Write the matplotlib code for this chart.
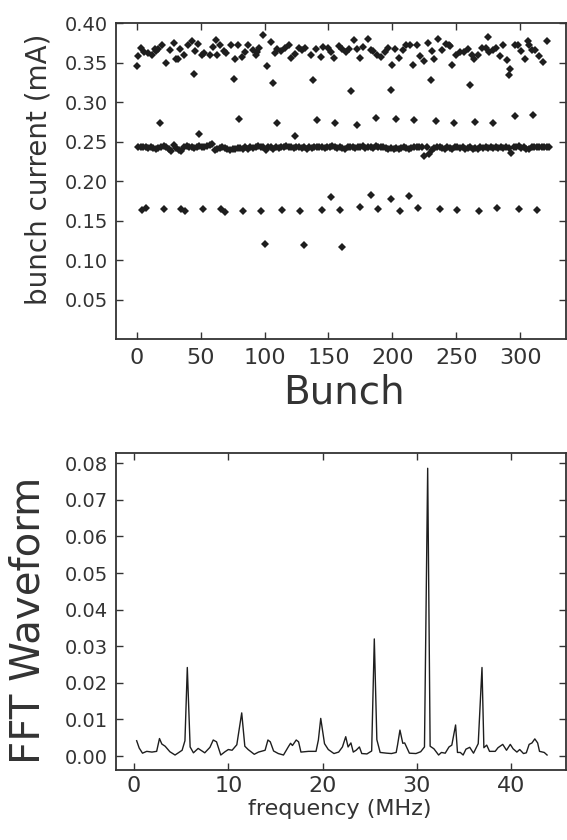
import numpy as np
import matplotlib
matplotlib.use("Agg")
from matplotlib import pyplot as plt

plt.rcParams['font.family'] = ['DejaVu Sans']

# ---- top panel: bunch current per bunch ----
# upper band
hi_bunch = [0, 1, 3, 6, 9, 12, 14, 15, 17, 20, 23, 26, 29, 31, 32, 34, 37, 40, 43, 45,
            46, 48, 51, 53, 57, 60, 62, 63, 65, 68, 70, 74, 76, 77, 79, 82, 85, 87, 91, 93,
            94, 96, 99, 102, 105, 107, 108, 110, 113, 116, 119, 121, 124, 127, 129, 132, 136, 138, 140, 144,
            146, 150, 152, 154, 158, 161, 164, 166, 170, 172, 175, 177, 181, 183, 185, 188, 191, 194, 197, 200,
            202, 205, 208, 211, 214, 216, 219, 222, 225, 228, 230, 231, 233, 236, 239, 242, 244, 245, 247, 250,
            253, 256, 259, 261, 262, 264, 267, 270, 273, 275, 276, 279, 281, 284, 287, 290, 291, 292, 296, 298,
            301, 304, 306, 307, 309, 312, 315, 318, 321]
hi_current = [0.346, 0.358, 0.3685, 0.3635, 0.3627, 0.360, 0.3678, 0.3644, 0.3669, 0.372,
              0.3492, 0.3656, 0.3754, 0.3542, 0.3542, 0.3678, 0.360, 0.3728, 0.3774, 0.3352,
              0.3652, 0.3732, 0.360, 0.3618, 0.360, 0.3694, 0.3783, 0.360, 0.372, 0.3644,
              0.3627, 0.372, 0.3298, 0.3542, 0.372, 0.357, 0.3635, 0.3728, 0.3656, 0.3601,
              0.3635, 0.369, 0.3848, 0.3455, 0.3766, 0.3243, 0.3627, 0.3678, 0.3644, 0.3685,
              0.372, 0.3559, 0.3614, 0.369, 0.366, 0.369, 0.3593, 0.328, 0.3678, 0.357,
              0.3698, 0.3685, 0.3635, 0.3559, 0.3707, 0.3669, 0.3635, 0.3669, 0.3787, 0.3669,
              0.3559, 0.3698, 0.3795, 0.366, 0.3648, 0.3593, 0.357, 0.3635, 0.3685, 0.3475,
              0.3678, 0.3559, 0.366, 0.3728, 0.3728, 0.3467, 0.372, 0.358, 0.3517, 0.3754,
              0.3285, 0.3648, 0.3542, 0.3804, 0.3656, 0.3741, 0.372, 0.3711, 0.3475, 0.3593,
              0.3635, 0.3635, 0.3669, 0.3213, 0.3601, 0.355, 0.3593, 0.3685, 0.3685, 0.3821,
              0.3635, 0.3656, 0.3685, 0.358, 0.372, 0.3538, 0.334, 0.3424, 0.3728, 0.3728,
              0.3652, 0.3546, 0.3771, 0.372, 0.366, 0.366, 0.358, 0.3508, 0.3771]

# middle band (every second bunch from 1 to 323)
mid_bunch = np.arange(1, 324, 2)
mid_current = [
    0.243, 0.243, 0.244, 0.243, 0.242, 0.243, 0.242, 0.241, 0.242, 0.243,
    0.245, 0.244, 0.241, 0.238, 0.246, 0.242, 0.240, 0.238, 0.244, 0.245,
    0.244, 0.243, 0.242, 0.244, 0.245, 0.244, 0.243, 0.245, 0.246, 0.247,
    0.240, 0.241, 0.242, 0.243, 0.242, 0.241, 0.240, 0.241, 0.241, 0.242,
    0.242, 0.241, 0.244, 0.241, 0.243, 0.242, 0.244, 0.245, 0.243, 0.244,
    0.239, 0.244, 0.243, 0.241, 0.243, 0.242, 0.244, 0.243, 0.245, 0.244,
    0.243, 0.242, 0.244, 0.243, 0.242, 0.243, 0.241, 0.243, 0.242, 0.244,
    0.243, 0.244, 0.243, 0.242, 0.244, 0.243, 0.245, 0.243, 0.242, 0.244,
    0.242, 0.241, 0.243, 0.244, 0.243, 0.242, 0.244, 0.243, 0.245, 0.242,
    0.243, 0.244, 0.242, 0.245, 0.243, 0.244, 0.243, 0.242, 0.241, 0.242,
    0.241, 0.242, 0.241, 0.242, 0.243, 0.242, 0.241, 0.242, 0.244, 0.243,
    0.244, 0.243, 0.232, 0.243, 0.234, 0.239, 0.242, 0.243, 0.243, 0.242,
    0.241, 0.243, 0.242, 0.241, 0.243, 0.244, 0.242, 0.243, 0.241, 0.242,
    0.243, 0.241, 0.242, 0.241, 0.243, 0.242, 0.243, 0.242, 0.243, 0.242,
    0.243, 0.242, 0.244, 0.242, 0.243, 0.242, 0.236, 0.243, 0.244, 0.245,
    0.242, 0.243, 0.241, 0.241, 0.244, 0.243, 0.244, 0.243, 0.244, 0.243,
    0.244, 0.243]

# scattered points between the bands
odd_bunch = [18, 49, 80, 110, 124, 141, 155, 168, 172, 187, 199, 203, 217, 234, 248, 265, 279, 296, 310]
odd_current = [0.2736, 0.2597, 0.2791, 0.2736, 0.2571, 0.2771, 0.2736, 0.3137, 0.2707, 0.2799,
               0.3158, 0.2787, 0.278, 0.2762, 0.2736, 0.2749, 0.2736, 0.2825, 0.2833]

# lower band and the lowest points
lo_bunch = [4, 7, 21, 35, 38, 52, 66, 69, 83, 97, 114, 128, 145, 152, 159, 175, 183, 189,
            199, 206, 213, 220, 237, 251, 268, 282, 299, 313, 100, 131, 161]
lo_current = [0.1631, 0.1663, 0.1646, 0.1652, 0.1623, 0.1646, 0.1652, 0.1610, 0.163, 0.163,
              0.164, 0.163, 0.164, 0.1795, 0.164, 0.1672, 0.1822, 0.165, 0.1777, 0.1621,
              0.1809, 0.1659, 0.1646, 0.1642, 0.163, 0.1663, 0.1655, 0.1642, 0.1204, 0.1196,
              0.1167]

# ---- bottom panel: FFT of the waveform ----
freq = [0.28, 0.55, 0.9, 1.35, 1.9, 2.4, 2.7, 2.95, 3.3, 3.8, 4.35, 4.7, 5.1, 5.4, 5.65,
        5.95, 6.3, 6.8, 7.5, 8.05, 8.4, 8.75, 9.2, 9.65, 10.0, 10.4, 10.9, 11.42, 11.75, 12.1,
        12.75, 13.2, 13.9, 14.2, 14.45, 14.8, 15.3, 15.85, 16.4, 16.6, 16.8, 17.2, 17.45, 17.7, 18.5,
        19.3, 19.55, 19.8, 20.2, 20.6, 21.2, 21.7, 22.1, 22.45, 22.7, 23.0, 23.25, 23.55, 23.9, 24.15,
        24.7, 25.2, 25.48, 25.75, 26.1, 26.8, 27.3, 27.8, 27.95, 28.2, 28.5, 28.7, 29.2, 29.9, 30.4,
        30.8, 31.14, 31.4, 31.8, 32.3, 32.6, 33.0, 33.4, 33.7, 34.1, 34.3, 34.6, 34.9, 35.2, 35.6,
        36.0, 36.5, 36.9, 37.1, 37.4, 37.7, 38.3, 38.6, 39.1, 39.5, 39.9, 40.2, 40.6, 40.9, 41.3,
        41.6, 41.9, 42.2, 42.5, 42.8, 43.0, 43.5, 43.8]
fft_amp = [0.0042, 0.0022, 0.0008, 0.0013, 0.0011, 0.0013, 0.0048, 0.0033, 0.0027, 0.0012,
           0.0003, 0.0009, 0.0016, 0.0042, 0.0242, 0.0025, 0.0009, 0.0021, 0.0009, 0.0024,
           0.0044, 0.0039, 0.0003, 0.0012, 0.0018, 0.0016, 0.0031, 0.0118, 0.0027, 0.0018,
           0.0005, 0.0011, 0.0016, 0.0044, 0.0039, 0.0014, 0.0007, 0.0003, 0.0027, 0.0035,
           0.0029, 0.0044, 0.0039, 0.0011, 0.0013, 0.0013, 0.0044, 0.0103, 0.0034, 0.0018,
           0.0007, 0.0011, 0.0025, 0.0053, 0.0025, 0.0036, 0.0011, 0.0016, 0.0025, 0.0007,
           0.0006, 0.0014, 0.0320, 0.0045, 0.0010, 0.0008, 0.0007, 0.0010, 0.0031, 0.0071,
           0.0035, 0.0036, 0.0008, 0.0007, 0.0012, 0.0025, 0.0786, 0.0027, 0.0020, 0.0003,
           0.0010, 0.0008, 0.0025, 0.0030, 0.0085, 0.0010, 0.0010, 0.0003, 0.0019, 0.0024,
           0.0008, 0.0034, 0.0242, 0.0023, 0.0030, 0.0013, 0.0013, 0.0023, 0.0032, 0.0016,
           0.0032, 0.0020, 0.0011, 0.0018, 0.0007, 0.0009, 0.0032, 0.0036, 0.0047, 0.0036,
           0.0013, 0.0010, 0.0003]

ink = '#1e1e1e'
txt = '#333333'

fig = plt.figure(figsize=(5.67, 8.40), dpi=100)

def style(ax):
    for s in ax.spines.values():
        s.set_linewidth(1.3)
        s.set_color('#333333')
    ax.tick_params(direction='in', length=5, width=1, colors='#333333',
                   top=True, right=True, labelcolor=txt)

# top plot
ax1 = fig.add_axes([0.2046, 0.5961, 0.7945, 0.3762])
ms = 3.7
ax1.plot(hi_bunch, hi_current, 'D', ms=ms, color=ink, mew=0)
ax1.plot(mid_bunch, mid_current, 'D', ms=ms, color=ink, mew=0)
ax1.plot(odd_bunch, odd_current, 'D', ms=ms, color=ink, mew=0)
ax1.plot(lo_bunch, lo_current, 'D', ms=ms, color=ink, mew=0)
ax1.set_xlim(-16.2, 336.3)
ax1.set_ylim(0.0, 0.40)
ax1.set_xticks([0, 50, 100, 150, 200, 250, 300])
ax1.set_yticks([0.05, 0.10, 0.15, 0.20, 0.25, 0.30, 0.35, 0.40])
ax1.set_yticklabels(['0.05', '0.10', '0.15', '0.20', '0.25', '0.30', '0.35', '0.40'])
style(ax1)
ax1.tick_params(axis='x', labelsize=16, pad=6)
ax1.tick_params(axis='y', labelsize=14, pad=6)
ax1.set_xlabel('Bunch', fontsize=28, color=txt)
ax1.xaxis.set_label_coords(0.506, -0.108)
ax1.set_ylabel('bunch current (mA)', fontsize=20, color=txt)
ax1.yaxis.set_label_coords(-0.14, 0.539)

# bottom plot
ax2 = fig.add_axes([0.2046, 0.0833, 0.7945, 0.3771])
ax2.plot(freq, fft_amp, '-', color=ink, lw=1.0)
ax2.set_xlim(-1.91, 45.86)
ax2.set_ylim(-0.0038, 0.0827)
ax2.set_xticks([0, 10, 20, 30, 40])
ax2.set_yticks([0.00, 0.01, 0.02, 0.03, 0.04, 0.05, 0.06, 0.07, 0.08])
ax2.set_yticklabels(['0.00', '0.01', '0.02', '0.03', '0.04', '0.05', '0.06', '0.07', '0.08'])
style(ax2)
ax2.tick_params(axis='x', labelsize=16, pad=4)
ax2.tick_params(axis='y', labelsize=14, pad=6)
ax2.set_xlabel('frequency (MHz)', fontsize=16, color=txt)
ax2.xaxis.set_label_coords(0.497, -0.092)
ax2.set_ylabel('FFT Waveform', fontsize=29, color=txt)
ax2.yaxis.set_label_coords(-0.149, 0.474)

fig.savefig('out.png', dpi=100)
